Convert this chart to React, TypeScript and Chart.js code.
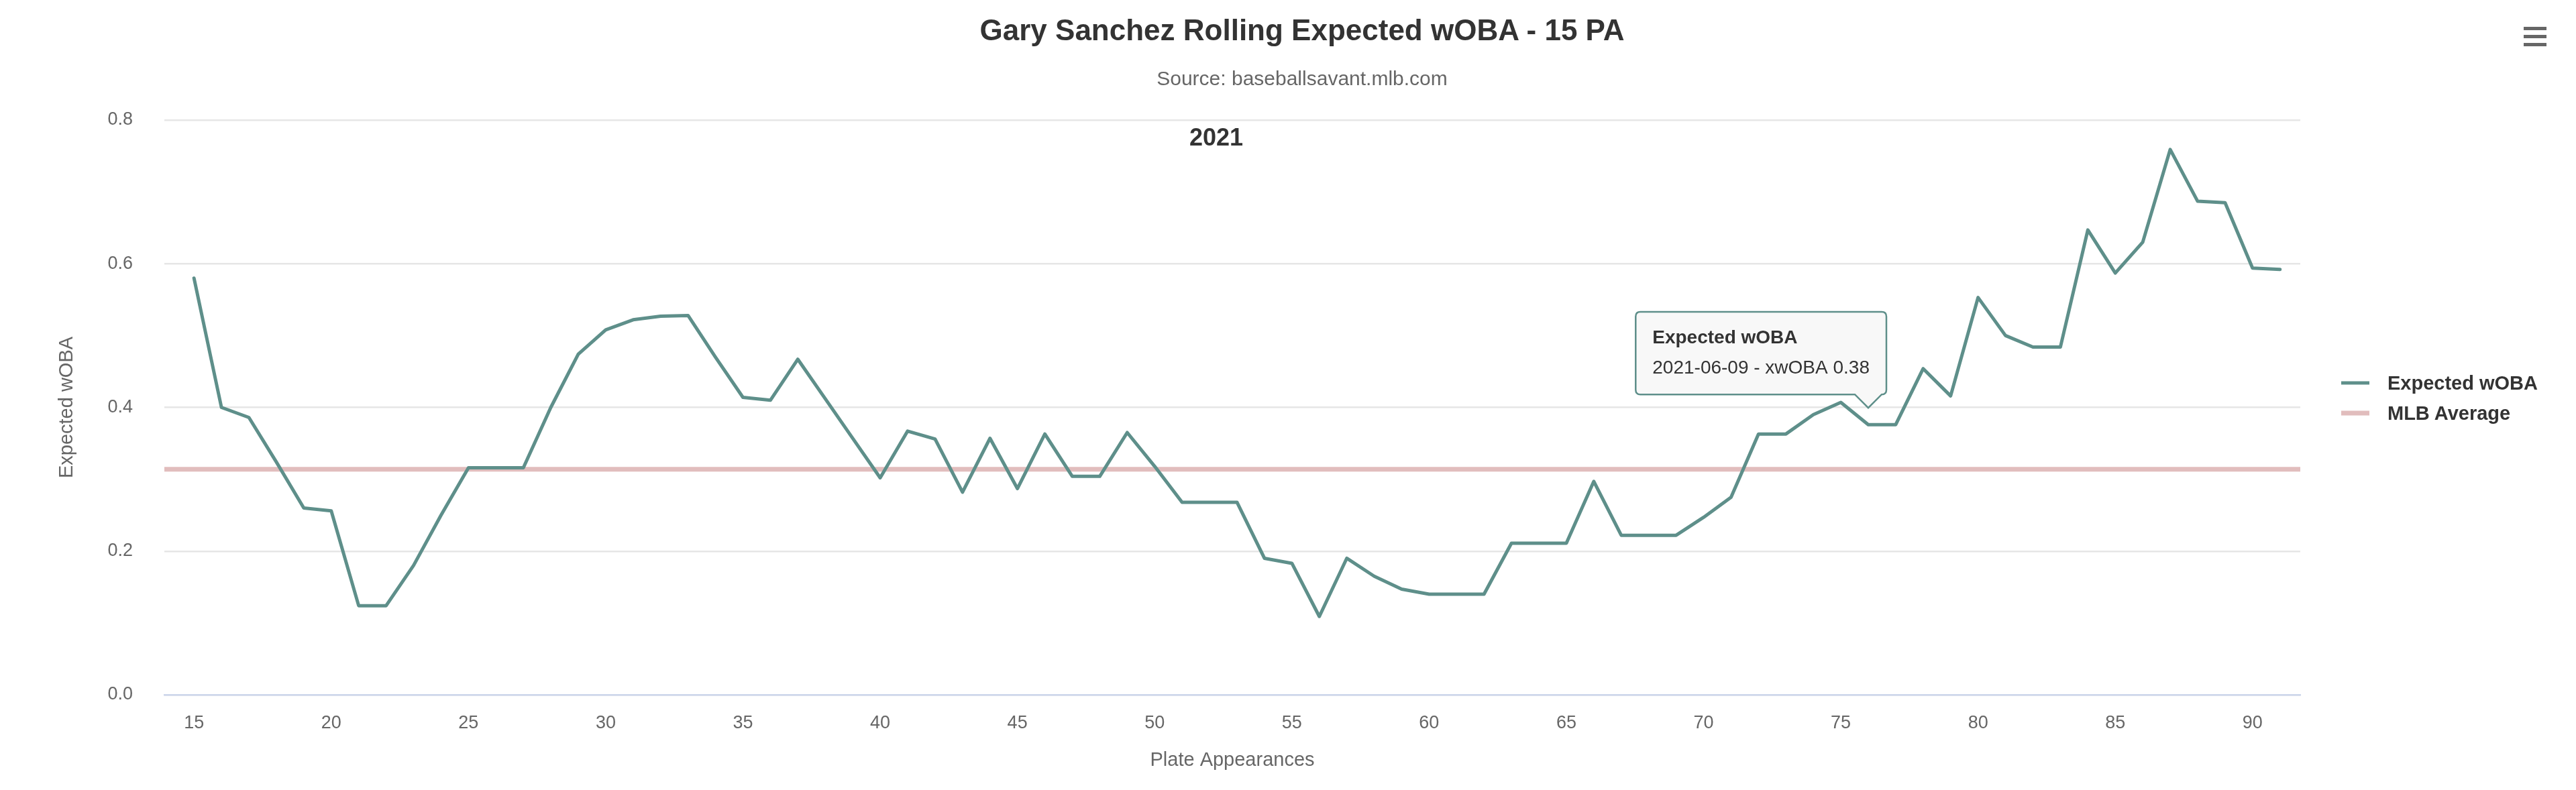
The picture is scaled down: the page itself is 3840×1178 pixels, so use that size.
import React, { useEffect, useRef } from "react";
import { Chart, registerables, Tooltip } from "chart.js";

Chart.register(...registerables);

// ---------- data ----------
const PLATE_APPEARANCES = [
  15, 16, 17, 18, 19, 20, 21, 22, 23, 24, 25, 26, 27, 28, 29, 30, 31, 32, 33, 34,
  35, 36, 37, 38, 39, 40, 41, 42, 43, 44, 45, 46, 47, 48, 49, 50, 51, 52, 53, 54,
  55, 56, 57, 58, 59, 60, 61, 62, 63, 64, 65, 66, 67, 68, 69, 70, 71, 72, 73, 74,
  75, 76, 77, 78, 79, 80, 81, 82, 83, 84, 85, 86, 87, 88, 89, 90, 91,
];
const EXPECTED_WOBA = [
  0.58, 0.4, 0.386, 0.324, 0.26, 0.256, 0.124, 0.124, 0.18, 0.25,
  0.316, 0.316, 0.316, 0.4, 0.474, 0.508, 0.522, 0.527, 0.528, 0.47,
  0.414, 0.41, 0.467, 0.412, 0.357, 0.302, 0.367, 0.356, 0.282, 0.357,
  0.287, 0.363, 0.304, 0.304, 0.365, 0.318, 0.268, 0.268, 0.268, 0.19,
  0.183, 0.109, 0.19, 0.165, 0.147, 0.14, 0.14, 0.14, 0.211, 0.211,
  0.211, 0.297, 0.222, 0.222, 0.222, 0.247, 0.275, 0.363, 0.363, 0.39,
  0.407, 0.376, 0.376, 0.454, 0.416, 0.553, 0.5, 0.484, 0.484, 0.647,
  0.587, 0.63, 0.759, 0.687, 0.685, 0.594, 0.592,
];
const MLB_AVERAGE = 0.314;
const X_RANGE = [13.92, 91.74];
const X_TICKS = [15, 20, 25, 30, 35, 40, 45, 50, 55, 60, 65, 70, 75, 80, 85, 90];
const Y_RANGE = [0, 0.8];
const Y_TICKS = [0, 0.2, 0.4, 0.6, 0.8];
const SERIES_NAMES = ["Expected wOBA", "MLB Average"];
const TOOLTIP_INDEX = 61;
const TOOLTIP_DATE = "2021-06-09";

const TITLE = "Gary Sanchez Rolling Expected wOBA - 15 PA";
const SUBTITLE = "Source: baseballsavant.mlb.com";
const SEASON_LABEL = "2021";
const X_TITLE = "Plate Appearances";
const Y_TITLE = "Expected wOBA";

// ---------- style ----------
const FONT = '"Liberation Sans", Arial, Helvetica, sans-serif';
const LINE_COLOR = "#5e8f8a";
const AVG_COLOR = "rgba(205, 145, 145, 0.6)";
const W = 3824;
const H = 1162;

(Tooltip as any).positioners.pinned = function (items: any[]) {
  if (!items.length) return false;
  return { x: items[0].element.x, y: items[0].element.y };
};

export default function App() {
  const canvasRef = useRef<HTMLCanvasElement | null>(null);

  useEffect(() => {
    const canvas = canvasRef.current;
    if (!canvas) return;
    Chart.defaults.font.family = FONT;

    const chart = new Chart(canvas, {
      type: "line",
      data: {
        datasets: [
          {
            label: SERIES_NAMES[0],
            data: PLATE_APPEARANCES.map((pa, i) => ({ x: pa, y: EXPECTED_WOBA[i] })),
            borderColor: LINE_COLOR,
            borderWidth: 5,
            pointRadius: 0,
            pointHoverRadius: 0,
            tension: 0,
            borderJoinStyle: "round",
            borderCapStyle: "round",
            fill: false,
          },
          {
            label: SERIES_NAMES[1],
            data: X_RANGE.map((x) => ({ x, y: MLB_AVERAGE })),
            borderColor: AVG_COLOR,
            borderWidth: 7,
            pointRadius: 0,
            pointHoverRadius: 0,
            tension: 0,
            fill: false,
          },
        ],
      },
      options: {
        responsive: false,
        animation: false,
        events: [],
        layout: { padding: { left: 37, right: 403, top: 171, bottom: 0 } },
        plugins: {
          legend: { display: false },
          title: { display: false },
          tooltip: {
            enabled: true,
            position: "pinned" as any,
            xAlign: "right",
            yAlign: "bottom",
            backgroundColor: "rgba(247,247,247,0.9)",
            borderColor: LINE_COLOR,
            borderWidth: 2.5,
            cornerRadius: 7,
            caretSize: 20,
            caretPadding: 25,
            padding: { left: 25, right: 25, top: 22, bottom: 22 },
            titleFont: { family: FONT, size: 28, weight: "bold" },
            titleColor: "#333333",
            titleMarginBottom: 12,
            bodyFont: { family: FONT, size: 28 },
            bodyColor: "#333333",
            displayColors: false,
            callbacks: {
              title: () => SERIES_NAMES[0],
              label: (ctx: any) => `${TOOLTIP_DATE} - xwOBA ${ctx.parsed.y.toFixed(2)}`,
            },
          },
        },
        scales: {
          x: {
            type: "linear",
            min: X_RANGE[0],
            max: X_RANGE[1],
            afterBuildTicks: (s: any) => {
              s.ticks = X_TICKS.map((v) => ({ value: v }));
            },
            afterFit: (s: any) => {
              s.height = 134;
            },
            grid: { display: false, drawTicks: false },
            border: { display: true, color: "#ccd6eb", width: 2.5 },
            ticks: {
              color: "#666666",
              font: { size: 27 },
              padding: 26,
              maxRotation: 0,
              autoSkip: false,
              callback: (v: any) => String(v),
            },
            title: {
              display: true,
              text: X_TITLE,
              color: "#666666",
              font: { size: 29 },
              padding: { top: 0, bottom: 19 },
            },
          },
          y: {
            type: "linear",
            min: Y_RANGE[0],
            max: Y_RANGE[1],
            afterBuildTicks: (s: any) => {
              s.ticks = Y_TICKS.map((v) => ({ value: v }));
            },
            afterFit: (s: any) => {
              s.width = 200;
            },
            grid: { color: "#e6e6e6", lineWidth: 2.5, drawTicks: false },
            border: { display: false },
            ticks: {
              color: "#666666",
              font: { size: 27 },
              padding: 47,
              callback: (v: any) => Number(v).toFixed(1),
            },
            title: {
              display: true,
              text: Y_TITLE,
              color: "#666666",
              font: { size: 29 },
              padding: { top: 38, bottom: 0 },
            },
          },
        },
      },
    });

    chart.tooltip?.setActiveElements([{ datasetIndex: 0, index: TOOLTIP_INDEX }], { x: 0, y: 0 });
    chart.draw();

    return () => chart.destroy();
  }, []);

  const abs: React.CSSProperties = { position: "absolute", whiteSpace: "nowrap", lineHeight: 1 };

  return (
    <div style={{ position: "relative", width: W, height: H, fontFamily: FONT, background: "#ffffff" }}>
      <canvas ref={canvasRef} width={W} height={H} style={{ display: "block", width: W, height: H }} />
      <div style={{ ...abs, left: 1933, top: 37, transform: "translate(-50%, -50%)", fontSize: 44, fontWeight: "bold", color: "#333333" }}>
        {TITLE}
      </div>
      <div style={{ ...abs, left: 1933, top: 109, transform: "translate(-50%, -50%)", fontSize: 30, color: "#666666" }}>
        {SUBTITLE}
      </div>
      <div style={{ ...abs, left: 1805, top: 197, transform: "translate(-50%, -50%)", fontSize: 36, fontWeight: "bold", color: "#333333" }}>
        {SEASON_LABEL}
      </div>
      <div style={{ position: "absolute", left: 3754, top: 32, width: 34, height: 29, display: "flex", flexDirection: "column", justifyContent: "space-between" }}>
        <div style={{ height: 5, background: "#666666" }} />
        <div style={{ height: 5, background: "#666666" }} />
        <div style={{ height: 5, background: "#666666" }} />
      </div>
      {SERIES_NAMES.map((name, i) => (
        <div key={name} style={{ ...abs, left: 3482, top: 563 + i * 45, transform: "translateY(-50%)", display: "flex", alignItems: "center" }}>
          <div style={{ width: 42, height: i === 0 ? 5 : 7, background: i === 0 ? LINE_COLOR : AVG_COLOR, marginRight: 27 }} />
          <span style={{ fontSize: 29, fontWeight: "bold", color: "#333333" }}>{name}</span>
        </div>
      ))}
    </div>
  );
}
